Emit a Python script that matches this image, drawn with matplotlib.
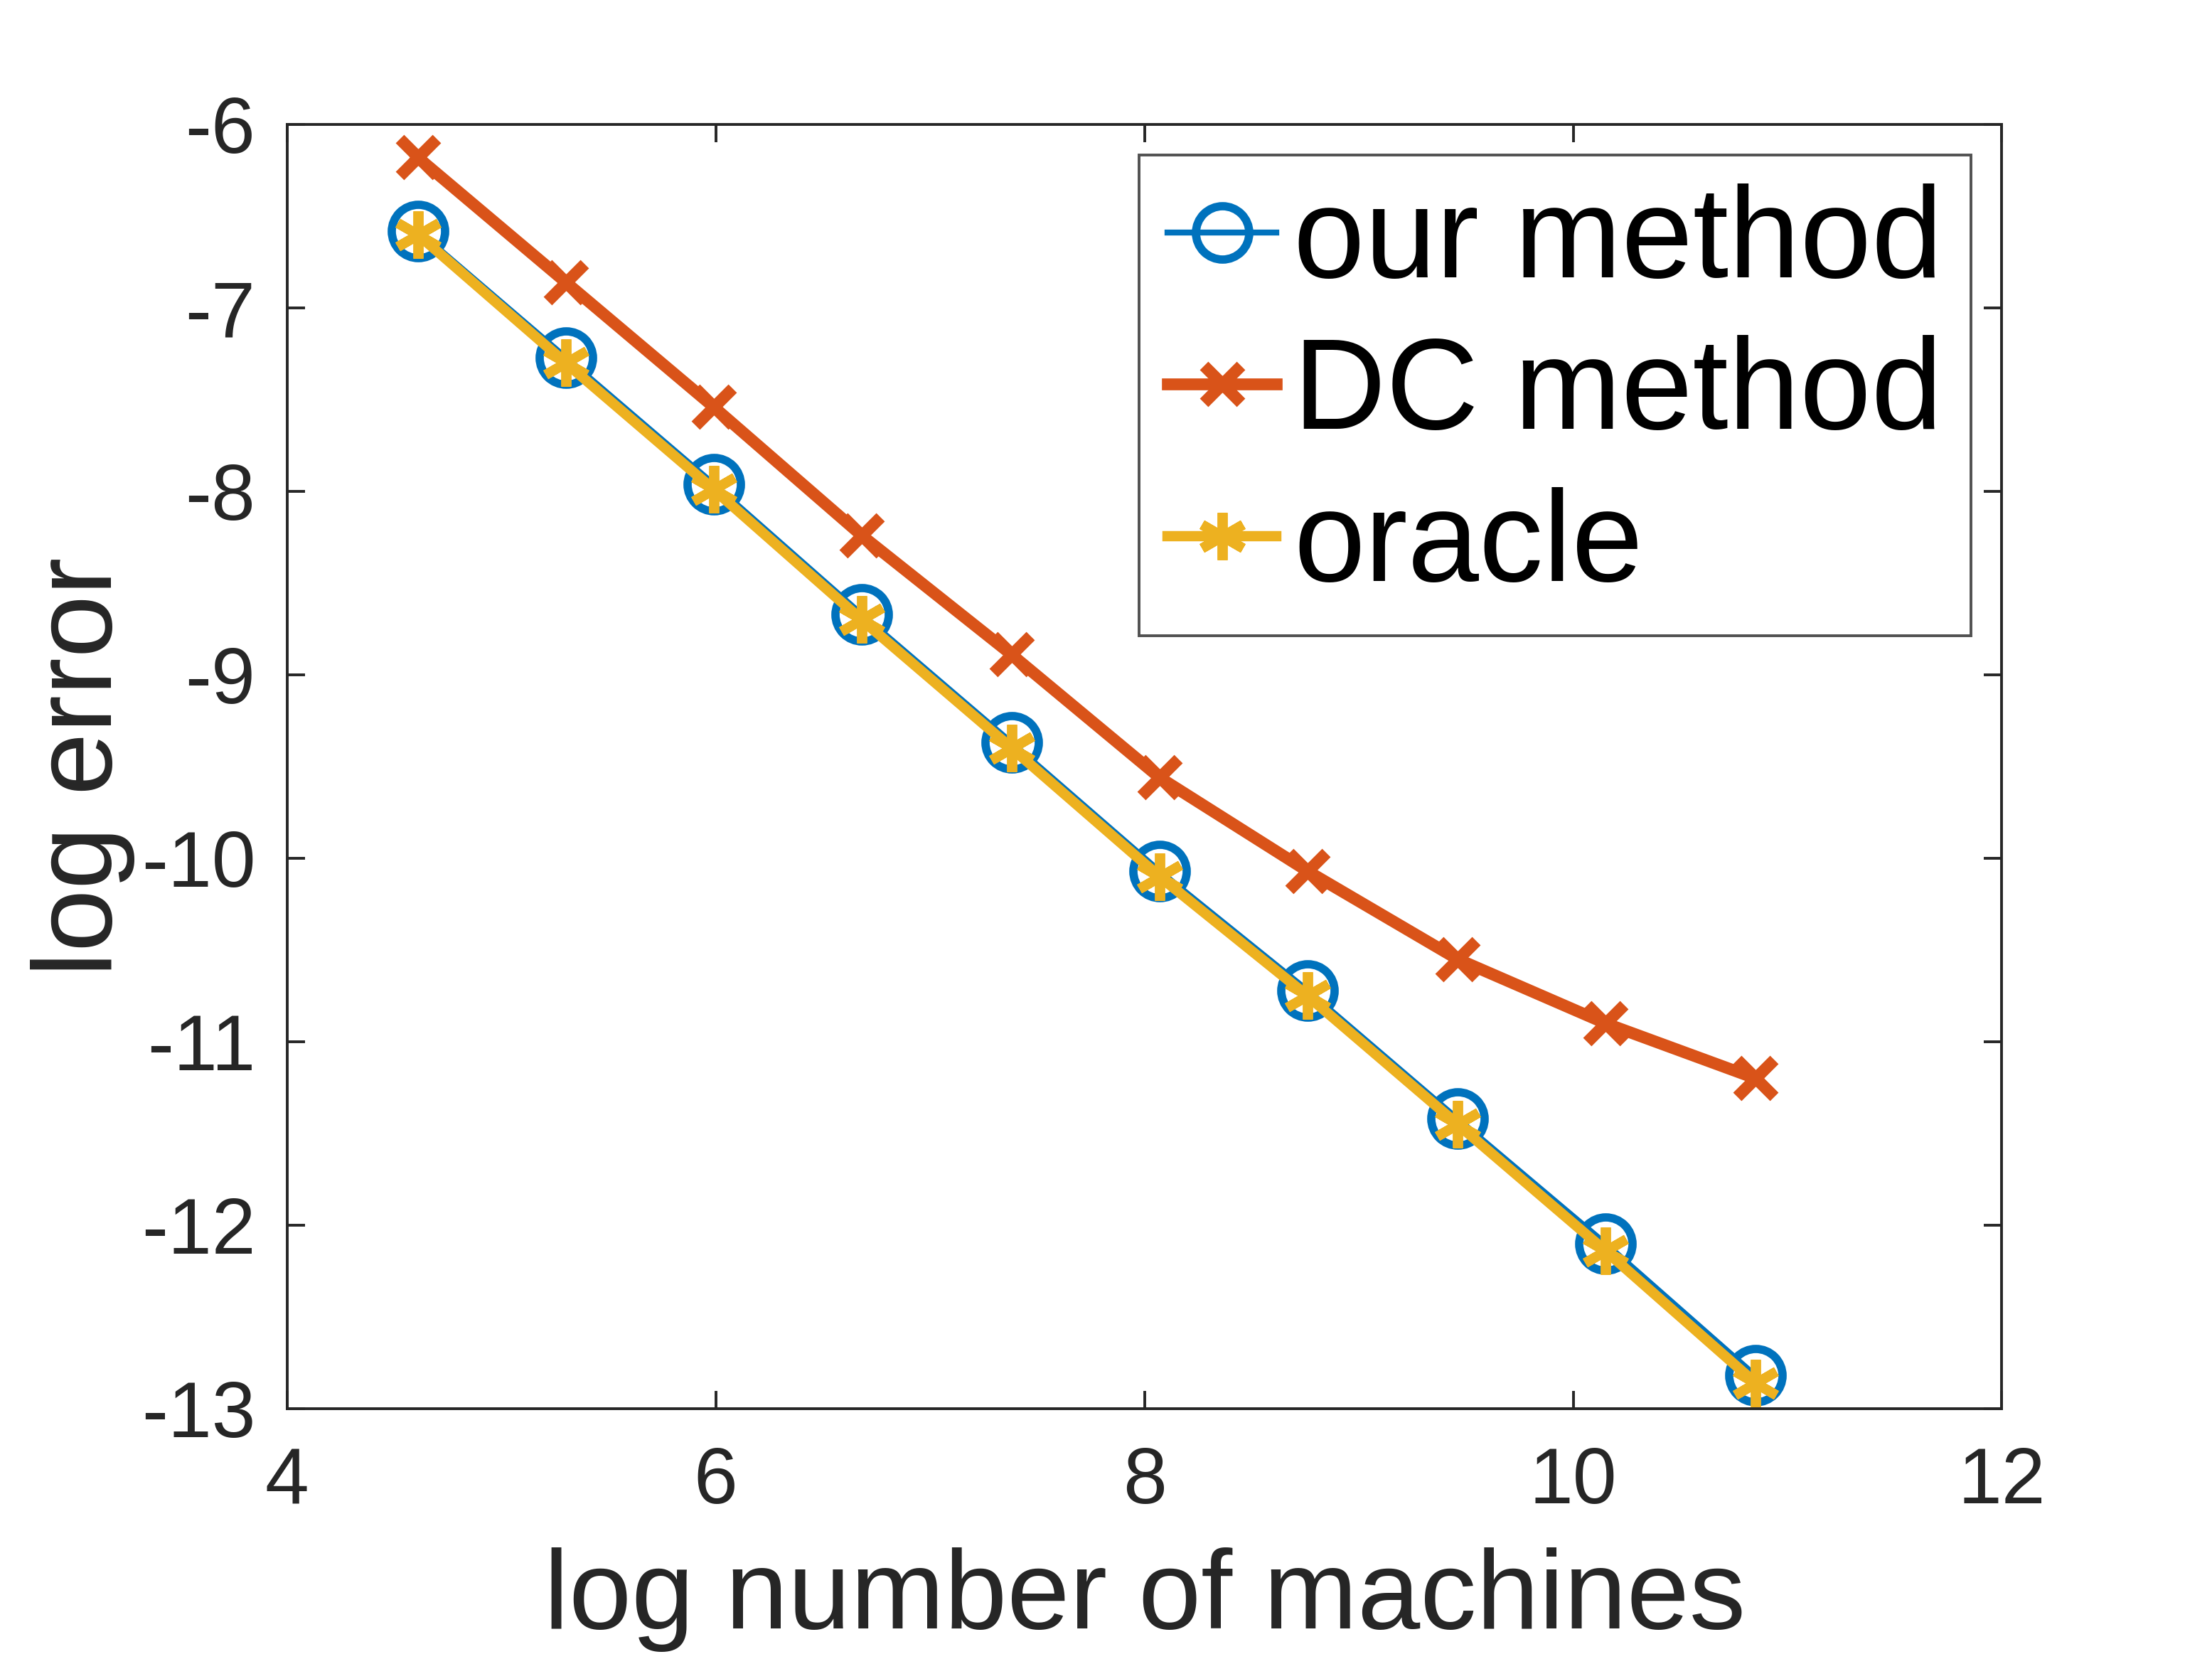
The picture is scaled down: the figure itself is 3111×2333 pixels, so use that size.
import numpy as np
import matplotlib
matplotlib.use("Agg")
import matplotlib.pyplot as plt

plt.rcParams['font.family'] = ['Liberation Sans', 'DejaVu Sans']
plt.rcParams['axes.unicode_minus'] = False

# log number of machines
x = [4.61, 5.30, 5.99, 6.68, 7.38, 8.07, 8.76, 9.46, 10.15, 10.85]
our_method = [-6.58, -7.27, -7.96, -8.67, -9.37, -10.07, -10.72, -11.42, -12.10, -12.82]
dc_method = [-6.18, -6.86, -7.54, -8.24, -8.89, -9.56, -10.07, -10.55, -10.90, -11.20]
oracle = [-6.60, -7.30, -7.99, -8.70, -9.40, -10.10, -10.75, -11.45, -12.14, -12.86]

xticks = [4, 6, 8, 10, 12]
yticks = [-13, -12, -11, -10, -9, -8, -7, -6]

fig = plt.figure(figsize=(15.555, 11.665), dpi=200)
ax = fig.add_axes([0.1298, 0.151, 0.7752, 0.774])

ax.plot(x, our_method, color='#0072BD', lw=3.0, marker='o', ms=27,
        mfc='none', mew=4.2, label='our method')
ax.plot(x, dc_method, color='#D95319', lw=6.0, marker='x', ms=19,
        mew=6.0, label='DC method')
ax.plot(x, oracle, color='#EDB120', lw=5.2, marker=(6, 2, 0), ms=24,
        mew=5.0, label='oracle')

ax.set_xlim(4, 12)
ax.set_ylim(-13, -6)
ax.set_xticks(xticks)
ax.set_yticks(yticks)
ax.set_xticklabels([str(t) for t in xticks])
ax.set_yticklabels([str(t) for t in yticks])
ax.tick_params(direction='in', length=9, width=1.4, top=True, right=True,
               labelsize=40, labelcolor='#262626', colors='#262626', pad=16)
ax.tick_params(axis='x', pad=19)
for s in ax.spines.values():
    s.set_color('#262626')
    s.set_linewidth(1.4)

ax.set_xlabel('log number of machines', fontsize=57, color='#262626', labelpad=14)
ax.set_ylabel('log error', fontsize=57, color='#262626', labelpad=3)

leg = ax.legend(loc='upper right', bbox_to_anchor=(0.982, 0.976), borderaxespad=0,
                fontsize=65, numpoints=1, handlelength=0.85, handletextpad=0.13,
                labelspacing=0.24, borderpad=0.22, frameon=True, fancybox=False)
leg.get_frame().set_edgecolor('#262626')
leg.get_frame().set_linewidth(1.4)

fig.savefig('out.png', dpi=200)
